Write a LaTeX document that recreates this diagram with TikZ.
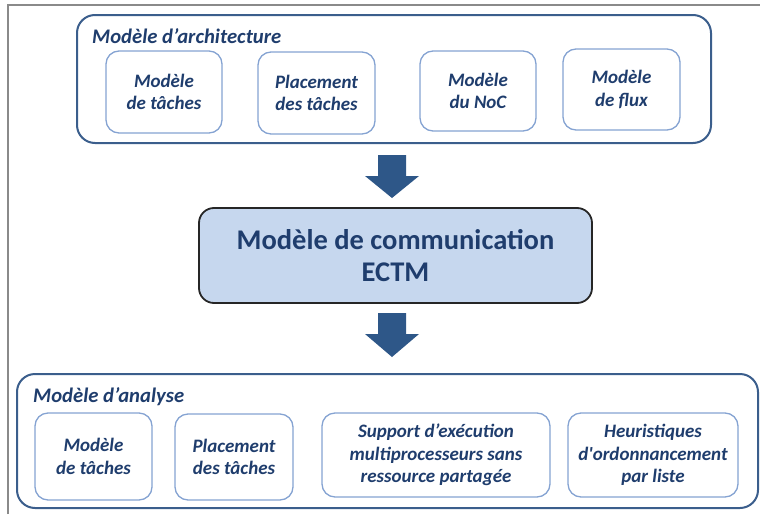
\documentclass[tikz,border=0pt]{standalone}
\usepackage{fontspec}
\setmainfont{Carlito}
\definecolor{navy}{HTML}{1F3D6D}
\definecolor{contborder}{HTML}{3B5E8C}
\definecolor{innerborder}{HTML}{85A3D2}
\definecolor{midfill}{HTML}{C6D7EE}
\definecolor{arrowblue}{HTML}{2E5788}
\definecolor{framegray}{HTML}{8A8A8A}
\tikzset{
  container/.style={draw=contborder, line width=2pt, rounded corners=18pt, inner sep=0pt},
  innerbox/.style={draw=innerborder, line width=1.3pt, rounded corners=13pt, fill=white,
    align=center, text=navy, font=\fontsize{19}{22.5}\selectfont\bfseries\itshape, inner sep=0pt},
  midbox/.style={draw=black!85, line width=1.8pt, rounded corners=15pt, fill=midfill,
    align=center, text=navy, font=\fontsize{28.5}{32}\selectfont\bfseries, inner sep=0pt},
  grouptitle/.style={anchor=west, text=navy, font=\fontsize{20.7}{24}\selectfont\bfseries\itshape, inner sep=0pt},
  bigarrow/.style={fill=arrowblue}
}
\begin{document}
\begin{tikzpicture}[x=1pt,y=-1pt]
\useasboundingbox (0,0) rectangle (760,514);
% frame
\draw[framegray, line width=1.5pt] (8,514) -- (8,5) -- (760,5);
% top container
\node[container, minimum width=634pt, minimum height=128pt] (arch) at (394,79) {};
\node[grouptitle] (archtitle) at (92,36) {Modèle d’architecture};
\node[innerbox, minimum width=116pt, minimum height=82pt] (a1) at (164,92) {Modèle\\de tâches};
\node[innerbox, minimum width=117pt, minimum height=82pt] (a2) at (316.5,93) {Placement\\des tâches};
\node[innerbox, minimum width=116pt, minimum height=80pt] (a3) at (478,91) {Modèle\\du NoC};
\node[innerbox, minimum width=117pt, minimum height=81pt] (a4) at (621.5,89.5) {Modèle\\de flux};
% arrow 1
\fill[bigarrow] (378,155) -- (406,155) -- (406,176) -- (419,176) -- (392,198) -- (365,176) -- (378,176) -- cycle;
% middle
\node[midbox, minimum width=393pt, minimum height=95pt] (ectm) at (395.5,255.5) {Modèle de communication\\ECTM};
% arrow 2
\fill[bigarrow] (378,313) -- (406,313) -- (406,334) -- (419,334) -- (392,357) -- (365,334) -- (378,334) -- cycle;
% bottom container
\node[container, minimum width=741pt, minimum height=134pt] (anal) at (387.5,441) {};
\node[grouptitle] (analtitle) at (33,397) {Modèle d’analyse};
\node[innerbox, minimum width=117pt, minimum height=87pt] (b1) at (93.5,456.5) {Modèle\\de tâches};
\node[innerbox, minimum width=118pt, minimum height=86pt] (b2) at (234,457) {Placement\\des tâches};
\node[innerbox, minimum width=228pt, minimum height=84pt] (b3) at (436,455) {Support d’exécution\\multiprocesseurs sans\\ressource partagée};
\node[innerbox, minimum width=170pt, minimum height=84pt] (b4) at (653,455) {Heuristiques\\d\textquotesingle ordonnancement\\par liste};
\end{tikzpicture}
\end{document}
